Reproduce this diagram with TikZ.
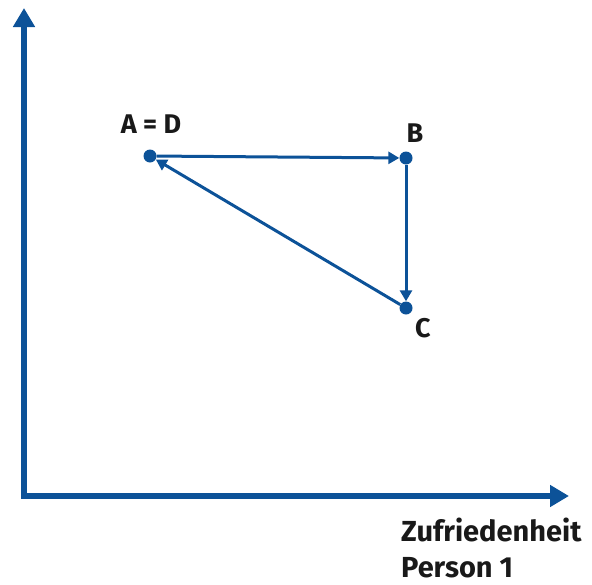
\documentclass[tikz,border=0pt]{standalone}
\usepackage{fontspec}
\setmainfont{Fira Sans}
\usetikzlibrary{arrows.meta}
\definecolor{PlotBlue}{RGB}{12,82,152}
\definecolor{InkBlack}{RGB}{25,25,25}
\tikzset{
  axis/.style={draw=PlotBlue,line width=6pt,{Triangle[width=21pt,length=19pt]}-{Triangle[width=21pt,length=19pt]}},
  pt/.style={circle,fill=PlotBlue,inner sep=0pt,minimum size=13pt},
  edge/.style={draw=PlotBlue,line width=3pt,-{Triangle[width=12pt,length=11pt]}},
  lbl/.style={text=InkBlack,font=\bfseries\fontsize{27}{28}\selectfont,inner sep=0pt,anchor=base},
  axlbl/.style={text=InkBlack,font=\bfseries\fontsize{29}{30}\selectfont,inner sep=0pt,text depth=0pt,anchor=base west},
}
\begin{document}
\begin{tikzpicture}[x=1pt,y=-1pt]
\useasboundingbox (0,0) rectangle (592,584);
% axes
\draw[axis] (24,8) -- (24,496) -- (569,496);
% points
\node[pt] (A) at (150,156) {};
\node[pt] (B) at (406,158) {};
\node[pt] (C) at (406,308) {};
\draw[edge] (A) -- (B);
\draw[edge] (B) -- (C);
\draw[edge] (C) -- (A);
% labels
\node[lbl] (lA) at (151,133) {A = D};
\node[lbl] (lB) at (415,142) {B};
\node[lbl] (lC) at (423,337) {C};
\node[axlbl] (lX1) at (401,541) {Zufriedenheit};
\node[axlbl] (lX2) at (401,577) {Person 1};
\end{tikzpicture}
\end{document}
